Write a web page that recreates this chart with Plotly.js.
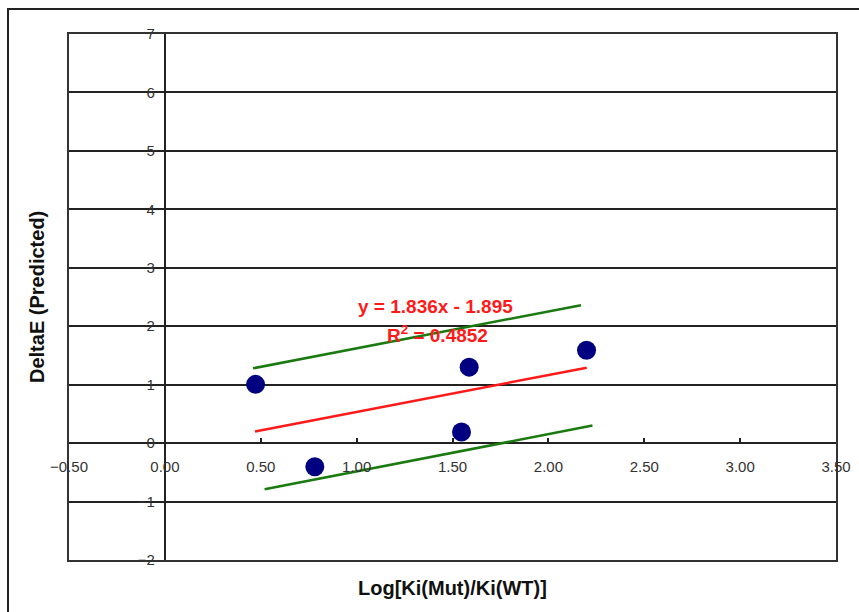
<!DOCTYPE html>
<html>
<head>
<meta charset="utf-8">
<script src="https://cdn.plot.ly/plotly-3.0.1.min.js"></script>
<style>html,body{margin:0;padding:0;background:#fff;}#chart{width:859px;height:612px;}</style>
</head>
<body>
<div id="chart"></div>
<script>
// Data points
const logKi = [0.473, 0.782, 1.547, 1.587, 2.199];
const deltaE = [1.005, -0.405, 0.19, 1.30, 1.59];
// Regression line (red) endpoints
const fitX = [0.47, 2.20];
const fitY = [0.20, 1.29];
// Confidence bands (green)
const upperX = [0.46, 2.17];
const upperY = [1.28, 2.36];
const lowerX = [0.52, 2.23];
const lowerY = [-0.79, 0.30];
// Labels
const eqText = "y = 1.836x - 1.895";
const r2Text = "R<sup>2</sup> = 0.4852";
const xTitle = "Log[Ki(Mut)/Ki(WT)]";
const yTitle = "DeltaE (Predicted)";
const xTickVals = [-0.5, 0, 0.5, 1, 1.5, 2, 2.5, 3, 3.5];
const yTickVals = [-2, -1, 0, 1, 2, 3, 4, 5, 6, 7];

const L = 69, R = 23, T = 34, B = 52, W = 859, H = 612;
const pw = W - L - R, ph = H - T - B;

const traces = [
  {x: upperX, y: upperY, mode: 'lines', line: {color: '#1a7a10', width: 2.5}, xaxis: 'x', yaxis: 'y', hoverinfo: 'skip'},
  {x: lowerX, y: lowerY, mode: 'lines', line: {color: '#1a7a10', width: 2.5}, xaxis: 'x', yaxis: 'y', hoverinfo: 'skip'},
  {x: fitX, y: fitY, mode: 'lines', line: {color: '#ff1a1a', width: 2.5}, xaxis: 'x', yaxis: 'y', hoverinfo: 'skip'},
  {x: logKi, y: deltaE, mode: 'markers', marker: {color: '#000080', size: 19}, xaxis: 'x2', yaxis: 'y2'}
];

const fam = 'Liberation Sans, Arial, sans-serif';
const tickFont = {family: fam, size: 15, color: '#333'};
const layout = {
  width: W, height: H,
  margin: {l: L, r: R, t: T, b: B, pad: 0},
  paper_bgcolor: '#fff', plot_bgcolor: '#fff',
  showlegend: false,
  xaxis: {range: [-0.5, 3.5], showgrid: false, zeroline: true, zerolinecolor: '#222', zerolinewidth: 2,
          showline: true, mirror: true, linecolor: '#333', linewidth: 2, showticklabels: false, ticks: ''},
  yaxis: {range: [-2, 7], tickvals: yTickVals, showgrid: true, gridcolor: '#222', gridwidth: 2, zeroline: false,
          showline: true, mirror: true, linecolor: '#333', linewidth: 2, showticklabels: false, ticks: ''},
  xaxis2: {overlaying: 'x', anchor: 'free', position: 2/9, range: [-0.5, 3.5], tickvals: xTickVals,
           tickformat: '.2f', ticks: 'inside', ticklen: 5, tickwidth: 2, tickcolor: '#222',
           showgrid: false, zeroline: false, showline: false, tickfont: tickFont, ticklabelstandoff: 13},
  yaxis2: {overlaying: 'y', anchor: 'free', position: 0.125, side: 'left', range: [-2, 7], tickvals: yTickVals,
           tickformat: 'd', ticks: '', showgrid: false, zeroline: false, showline: false,
           tickfont: tickFont, ticklabelstandoff: 10},
  annotations: [
    {xref: 'paper', yref: 'paper', x: (37 - L) / pw, y: (H - B - 297) / ph, xanchor: 'center', yanchor: 'middle',
     text: '<b>' + yTitle + '</b>', textangle: -90,
     showarrow: false, font: {family: fam, size: 20, color: '#111'}},
    {xref: 'paper', yref: 'paper', x: 0.5, y: (H - B - 588) / ph, xanchor: 'center', yanchor: 'middle',
     text: '<b>' + xTitle + '</b>',
     showarrow: false, font: {family: fam, size: 20, color: '#111'}},
    {xref: 'x', yref: 'y', x: 1.41, y: 2.33, xanchor: 'center', yanchor: 'middle', text: '<b>' + eqText + '</b>', showarrow: false,
     font: {family: fam, size: 19, color: '#ff1a1a'}},
    {xref: 'x', yref: 'y', x: 1.42, y: 1.86, xanchor: 'center', yanchor: 'middle', text: '<b>' + r2Text + '</b>', showarrow: false,
     font: {family: fam, size: 19, color: '#ff1a1a'}}
  ],
  shapes: [
    {type: 'rect', xref: 'paper', yref: 'paper', layer: 'below',
     x0: (8 - L) / pw, x1: (W + 20 - L) / pw, y0: (H - B - (H + 20)) / ph, y1: (H - B - 9) / ph,
     line: {color: '#222', width: 2}}
  ]
};

Plotly.newPlot('chart', traces, layout, {displayModeBar: false, staticPlot: true});
</script>
</body>
</html>
